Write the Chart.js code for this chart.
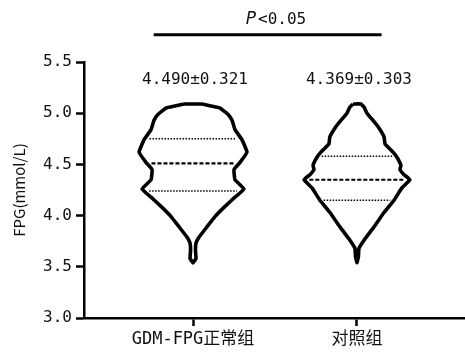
<!DOCTYPE html>
<html>
<head>
<meta charset="utf-8">
<script src="https://cdn.jsdelivr.net/npm/chart.js@4"></script>
<style>
  html, body { margin: 0; padding: 0; background: #fff; }
  #wrap { width: 465px; height: 353px; }
</style>
</head>
<body>
<div id="wrap"><canvas id="violinChart"></canvas></div>
<script>
// groups and summary text
const groups = ['GDM-FPG正常组', '对照组'];
const meanLabels = ['4.490±0.321', '4.369±0.303'];
const pLabel = '<0.05';

// violin outline: FPG level and half width (in group-axis units)
const levels1 = [5.09, 5.07, 5.05, 4.99, 4.93, 4.84, 4.74, 4.62, 4.52, 4.45, 4.35, 4.26, 4.18, 4.08, 3.99, 3.89, 3.79, 3.73, 3.66, 3.58, 3.54];
const widths1 = [0.055, 0.11, 0.165, 0.213, 0.238, 0.256, 0.299, 0.329, 0.287, 0.25, 0.256, 0.311, 0.256, 0.189, 0.134, 0.085, 0.037, 0.018, 0.015, 0.018, 0];
const levels2 = [5.09, 5.06, 5.00, 4.93, 4.87, 4.77, 4.70, 4.67, 4.62, 4.57, 4.49, 4.45, 4.40, 4.35, 4.27, 4.15, 4.03, 3.89, 3.76, 3.68, 3.60, 3.54];
const widths2 = [0.024, 0.043, 0.061, 0.098, 0.128, 0.165, 0.171, 0.189, 0.22, 0.244, 0.268, 0.262, 0.287, 0.323, 0.274, 0.226, 0.165, 0.104, 0.043, 0.012, 0.009, 0];

// quartiles [Q1, median, Q3]
const quart1 = [4.24, 4.51, 4.75];
const quart2 = [4.15, 4.35, 4.58];

const yTicks = [3.0, 3.5, 4.0, 4.5, 5.0, 5.5];

const monoFont = '"DejaVu Sans Mono", "Noto Sans CJK SC", monospace';

function outline(center, levels, widths) {
    const pts = [];
    for (let i = 0; i < levels.length; i++) pts.push({ x: center - widths[i], y: levels[i] });
    for (let i = levels.length - 1; i >= 0; i--) pts.push({ x: center + widths[i], y: levels[i] });
    pts.push(pts[0]);
    return pts;
}

function widthAt(levels, widths, v) {
    for (let i = 0; i < levels.length - 1; i++) {
        const a = levels[i], b = levels[i + 1];
        if (v <= a && v >= b) {
            const t = (a - v) / (a - b);
            return widths[i] + t * (widths[i + 1] - widths[i]);
        }
    }
    return 0;
}

function quartLine(center, levels, widths, v, isMedian) {
    const w = widthAt(levels, widths, v) * 0.9;
    return {
        data: [{ x: center - w, y: v }, { x: center + w, y: v }],
        showLine: true,
        borderColor: '#000',
        borderWidth: isMedian ? 2.2 : 1.6,
        borderDash: isMedian ? [4, 2] : [1.5, 1.5],
        pointRadius: 0,
        fill: false
    };
}

const datasets = [];
[[1, levels1, widths1, quart1], [2, levels2, widths2, quart2]].forEach(([c, lv, wd, q]) => {
    datasets.push({
        data: outline(c, lv, wd),
        showLine: true,
        borderColor: '#000',
        borderWidth: 3.6,
        borderJoinStyle: 'round',
        tension: 0.1,
        pointRadius: 0,
        fill: false
    });
    q.forEach((v, i) => datasets.push(quartLine(c, lv, wd, v, i === 1)));
});

const whiteBg = {
    id: 'whiteBg',
    beforeDraw(chart) {
        const ctx = chart.ctx;
        ctx.save();
        ctx.fillStyle = '#fff';
        ctx.fillRect(0, 0, chart.width, chart.height);
        ctx.restore();
    }
};

const notes = {
    id: 'notes',
    afterDraw(chart) {
        const ctx = chart.ctx;
        const xs = chart.scales.x, ys = chart.scales.y;
        ctx.save();
        ctx.fillStyle = '#111';
        ctx.textBaseline = 'middle';
        ctx.textAlign = 'center';
        ctx.font = '16px ' + monoFont;
        meanLabels.forEach((t, i) => {
            ctx.fillText(t, xs.getPixelForValue(i + 1) + 2, ys.getPixelForValue(5.33));
        });

        // significance bracket
        const yb = ys.getPixelForValue(5.765);
        ctx.strokeStyle = '#000';
        ctx.lineWidth = 3;
        ctx.beginPath();
        ctx.moveTo(xs.getPixelForValue(0.76), yb);
        ctx.lineTo(xs.getPixelForValue(2.15), yb);
        ctx.stroke();

        const yp = ys.getPixelForValue(5.91);
        ctx.font = 'italic 17px "DejaVu Sans", sans-serif';
        const pw = ctx.measureText('P').width;
        ctx.font = '16px ' + monoFont;
        const rw = ctx.measureText(pLabel).width;
        const x0 = (xs.getPixelForValue(1) + xs.getPixelForValue(2)) / 2 - (pw + rw) / 2;
        ctx.textAlign = 'left';
        ctx.font = 'italic 17px "DejaVu Sans", sans-serif';
        ctx.fillText('P', x0, yp);
        ctx.font = '16px ' + monoFont;
        ctx.fillText(pLabel, x0 + pw + 2, yp);
        ctx.restore();
    }
};

new Chart(document.getElementById('violinChart'), {
    type: 'scatter',
    data: { datasets },
    plugins: [whiteBg, notes],
    options: {
        responsive: true,
        maintainAspectRatio: false,
        animation: false,
        layout: { padding: { top: 62, right: 0, left: 0, bottom: 0 } },
        plugins: { legend: { display: false }, tooltip: { enabled: false } },
        scales: {
            x: {
                type: 'linear',
                min: 0.335,
                max: 2.659,
                afterBuildTicks: (s) => { s.ticks = [{ value: 1 }, { value: 2 }]; },
                afterFit: (s) => { s.height = 35; },
                ticks: {
                    callback: (v) => groups[Math.round(v) - 1],
                    color: '#111',
                    font: { family: monoFont, size: 17 },
                    padding: 3,
                    maxRotation: 0
                },
                grid: { drawOnChartArea: false, tickLength: 8, tickColor: '#000', tickWidth: 2.5 },
                border: { display: true, color: '#000', width: 2.5 }
            },
            y: {
                min: 3,
                max: 5.5,
                afterBuildTicks: (s) => { s.ticks = yTicks.map(v => ({ value: v })); },
                afterFit: (s) => { s.width = 84; },
                ticks: {
                    callback: (v) => v.toFixed(1),
                    color: '#111',
                    font: { family: monoFont, size: 16 },
                    padding: 4
                },
                title: {
                    display: true,
                    text: 'FPG(mmol/L)',
                    color: '#111',
                    font: { family: '"Noto Sans CJK SC", "DejaVu Sans", sans-serif', size: 15 },
                    padding: { top: 10, bottom: 4 }
                },
                grid: { drawOnChartArea: false, tickLength: 8, tickColor: '#000', tickWidth: 2.5 },
                border: { display: true, color: '#000', width: 2.5 }
            }
        }
    }
});
</script>
</body>
</html>
